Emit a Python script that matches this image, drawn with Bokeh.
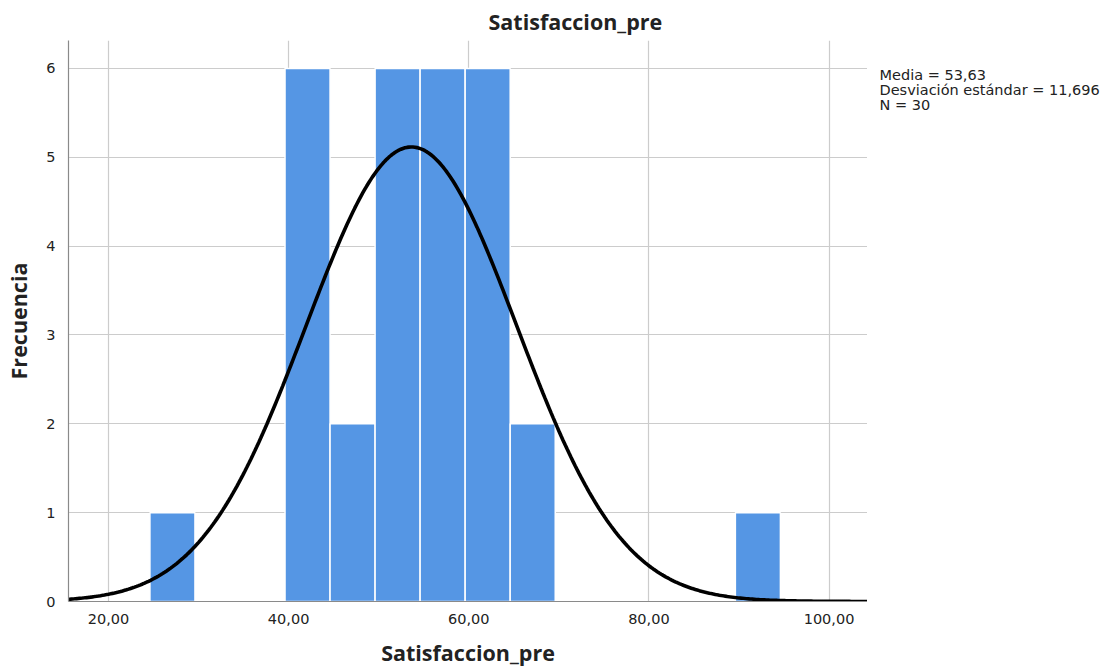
import numpy as np
from bokeh.plotting import figure
from bokeh.layouts import row
from bokeh.models import ColumnDataSource, FixedTicker, Range1d, CustomJSTickFormatter
from bokeh.core.properties import value
from bokeh.embed import file_html
from bokeh.resources import INLINE

# ---- data ----
bin_left = [24.6, 39.6, 44.6, 49.6, 54.6, 59.6, 64.6, 89.6]
bin_width = 5.0
frequency = [1, 6, 2, 6, 6, 6, 2, 1]
mean_value = 53.63
std_value = 11.696
n_value = 30
x_ticks = [20, 40, 60, 80, 100]
y_ticks = [0, 1, 2, 3, 4, 5, 6]
stats_lines = ["Media = 53,63", "Desviación estándar = 11,696", "N = 30"]
title_text = "Satisfaccion_pre"
y_label = "Frecuencia"

x_min, x_max = 15.56, 104.27
y_min, y_max = 0, 6.315

bars = ColumnDataSource(dict(
    left=bin_left,
    right=[b + bin_width for b in bin_left],
    top=frequency,
    bottom=[0] * len(frequency),
))

# fitted normal curve scaled to the histogram (N * bin width * pdf)
xs = np.linspace(x_min, x_max, 400)
ys = n_value * bin_width * np.exp(-0.5 * ((xs - mean_value) / std_value) ** 2) / (std_value * np.sqrt(2 * np.pi))
curve = ColumnDataSource(dict(x=xs, y=ys))

W, H = 1106, 669
B_LEFT, B_TOP, B_BOTTOM = 68, 40, 68
MAIN_W = 867

p = figure(width=MAIN_W, height=H, output_backend="svg", toolbar_location=None,
           x_range=Range1d(x_min, x_max), y_range=Range1d(y_min, y_max),
           min_border_left=B_LEFT, min_border_right=0, min_border_top=B_TOP, min_border_bottom=B_BOTTOM)
p.outline_line_color = None
p.background_fill_color = "white"
p.border_fill_color = "white"

p.title.text = title_text
p.title.text_font = "Open Sans"
p.title.text_font_style = "bold"
p.title.text_font_size = "21.5px"
p.title.align = "left"
p.title.offset = 420
p.title.standoff = 9
p.title.text_color = "#222222"

p.quad(left="left", right="right", top="top", bottom="bottom", source=bars,
       fill_color="#5596E4", line_color="white", line_width=1.5)
p.line("x", "y", source=curve, line_color="black", line_width=3.6)

# axes
p.xaxis.ticker = FixedTicker(ticks=x_ticks)
p.yaxis.ticker = FixedTicker(ticks=y_ticks)
p.xaxis.formatter = CustomJSTickFormatter(code="return tick.toFixed(2).replace('.', ',');")
for ax in (p.xaxis[0], p.yaxis[0]):
    ax.major_tick_line_color = None
    ax.minor_tick_line_color = None
    ax.axis_line_color = "#8a8a8a"
    ax.axis_line_width = 1.2
    ax.major_label_text_font = "DejaVu Sans"
    ax.major_label_text_font_size = "14.5px"
    ax.major_label_text_color = "#222222"
    ax.axis_label_text_font = "Open Sans"
    ax.axis_label_text_font_style = "bold"
    ax.axis_label_text_font_size = "21.5px"
    ax.axis_label_text_color = "#222222"
p.xaxis.axis_label = title_text
p.yaxis.axis_label = y_label
p.xaxis.major_label_standoff = 6
p.xaxis.axis_label_standoff = 11
p.yaxis.major_label_standoff = 7
p.yaxis.axis_label_standoff = 10

p.xgrid.ticker = FixedTicker(ticks=x_ticks)
p.ygrid.ticker = FixedTicker(ticks=y_ticks)
p.grid.grid_line_color = "#cccccc"
p.grid.grid_line_width = 1.2

# stats text panel at the right (y coordinates measured in pixels from canvas top)
side_w = W - MAIN_W
q = figure(width=side_w, height=H, output_backend="svg", toolbar_location=None,
           x_range=Range1d(0, side_w), y_range=Range1d(H - B_BOTTOM, B_TOP),
           min_border_left=0, min_border_right=0, min_border_top=B_TOP, min_border_bottom=B_BOTTOM)
q.axis.visible = False
q.grid.visible = False
q.outline_line_color = None
q.border_fill_color = "white"
stats_src = ColumnDataSource(dict(
    x=[12] * len(stats_lines),
    y=[74 + 15 * i for i in range(len(stats_lines))],
    text=stats_lines,
))
q.text("x", "y", text="text", source=stats_src, text_font=value("DejaVu Sans"),
       text_font_size="14.5px", text_color="#222222", text_baseline="alphabetic", text_align="left")

layout = row(p, q, spacing=0)
open("out.html", "w").write(file_html(layout, INLINE))
